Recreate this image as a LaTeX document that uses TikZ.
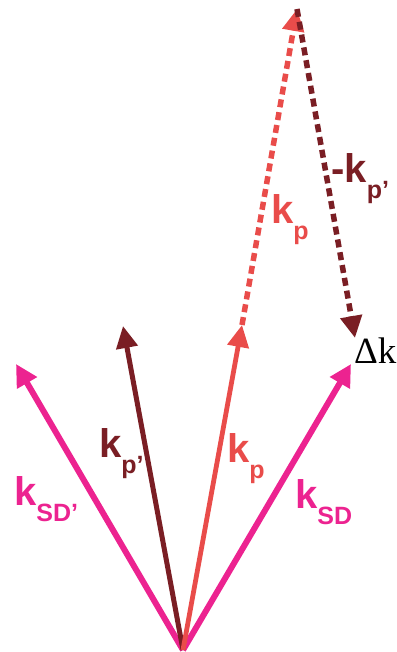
\documentclass[tikz,border=0pt]{standalone}
\usepackage{fontspec}
\setsansfont{Liberation Sans}
\newfontfamily\dkfont{Liberation Serif}
\usetikzlibrary{arrows.meta}
\definecolor{sdpink}{RGB}{236,35,144}
\definecolor{kpred}{RGB}{233,76,74}
\definecolor{kpmaroon}{RGB}{122,30,36}
\newcommand\ksub[1]{\raisebox{-16pt}{\fontsize{25}{25}\selectfont #1}}
\begin{document}
\begin{tikzpicture}[x=1pt,y=-1pt,
  vecsd/.style={line width=6pt, draw=sdpink, -{Triangle[length=22pt,width=22pt]}},
  vecp/.style={line width=4.8pt, draw=kpred, -{Triangle[length=22pt,width=21pt]}},
  vecpp/.style={line width=5pt, draw=kpmaroon, -{Triangle[length=22pt,width=21pt]}},
  dashvec/.style={line width=5.5pt, dash pattern=on 8pt off 5pt},
  lab/.style={anchor=base west, inner sep=0pt, font=\sffamily\bfseries\fontsize{40}{40}\selectfont}
]
\useasboundingbox (0,0) rectangle (396,652);
% points
\coordinate (O) at (183,650);
\coordinate (sdl) at (16,364);
\coordinate (ppt) at (123,326);
\coordinate (pt) at (242,325);
\coordinate (sdr) at (351,364);
\coordinate (top) at (297,9);
\coordinate (dk) at (355,338);
% solid vectors
\draw[vecsd] (O) -- (sdl);
\draw[vecsd] (O) -- (sdr);
\draw[vecpp] (O) -- (ppt);
\draw[vecp] (O) -- (pt);
% dashed construction
\draw[vecp, dashvec] (pt) -- (top);
\draw[vecpp, dashvec] (top) -- (dk);
% labels
\node[lab, text=sdpink] (lsdl) at (14,505) {k\ksub{SD’}};
\node[lab, text=kpmaroon] (lpp) at (99,457) {k\ksub{p’}};
\node[lab, text=kpred] (lp) at (227,462) {k\ksub{p}};
\node[lab, text=sdpink] (lsdr) at (295,508) {k\ksub{SD}};
\node[lab, text=kpred] (lpu) at (271,223) {k\ksub{p}};
\node[lab, text=kpmaroon] (lmpp) at (331,183) {-k\ksub{p’}};
\node[anchor=base west, inner sep=0pt, font=\dkfont\fontsize{37}{37}\selectfont] (ldk) at (354,363) {Δk};
\end{tikzpicture}
\end{document}
